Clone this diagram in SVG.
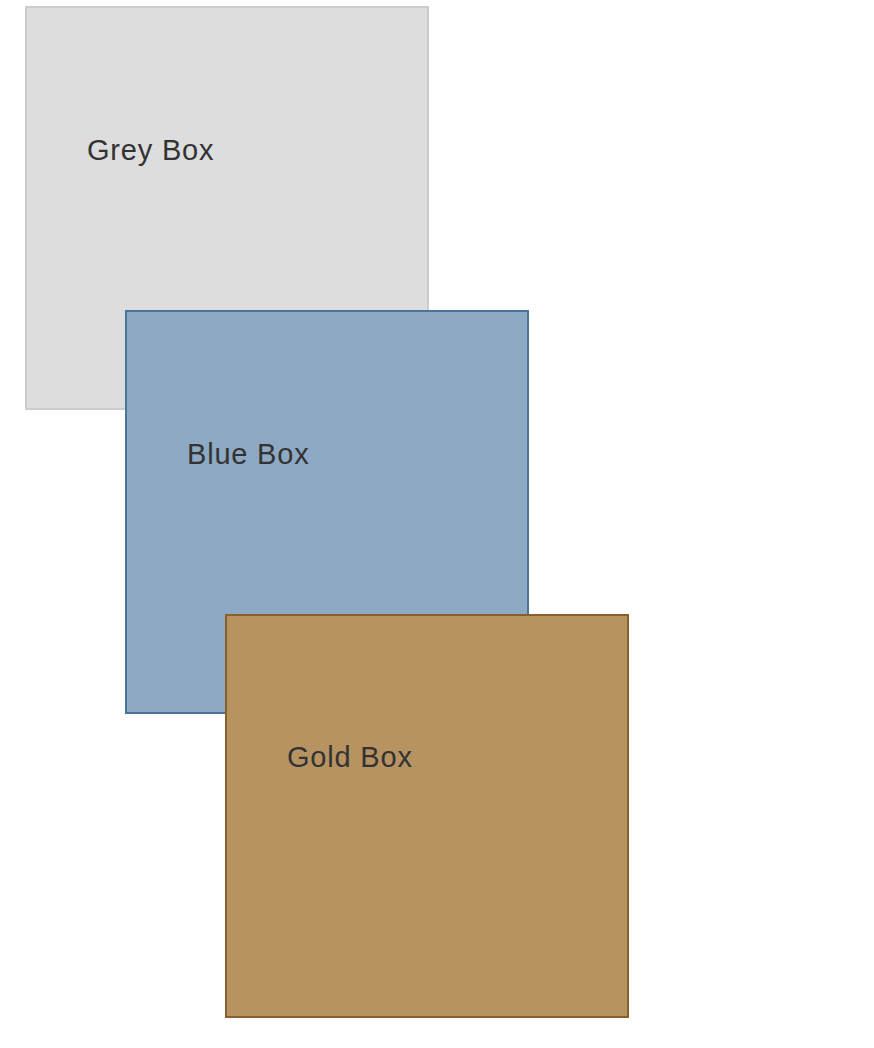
<svg xmlns="http://www.w3.org/2000/svg" width="874" height="1048" viewBox="0 0 874 1048">
<style>
.lbl{font-family:"Liberation Sans",Arial,sans-serif;font-size:29px;fill:#333;letter-spacing:0.8px}
</style>
<rect width="874" height="1048" fill="#fff"/>
<g id="grey">
<rect x="26" y="7" width="402" height="402" fill="#dddddd" stroke="#cccccc" stroke-width="2"/>
<text class="lbl" x="87" y="160">Grey Box</text>
</g>
<g id="blue">
<rect x="126" y="311" width="402" height="402" fill="#8da9c3" stroke="#4c7498" stroke-width="2"/>
<text class="lbl" x="187" y="464">Blue Box</text>
</g>
<g id="gold">
<rect x="226" y="615" width="402" height="402" fill="#b89362" stroke="#8a5f2a" stroke-width="2"/>
<text class="lbl" x="287" y="767">Gold Box</text>
</g>
<g id="connectors"></g>
</svg>
